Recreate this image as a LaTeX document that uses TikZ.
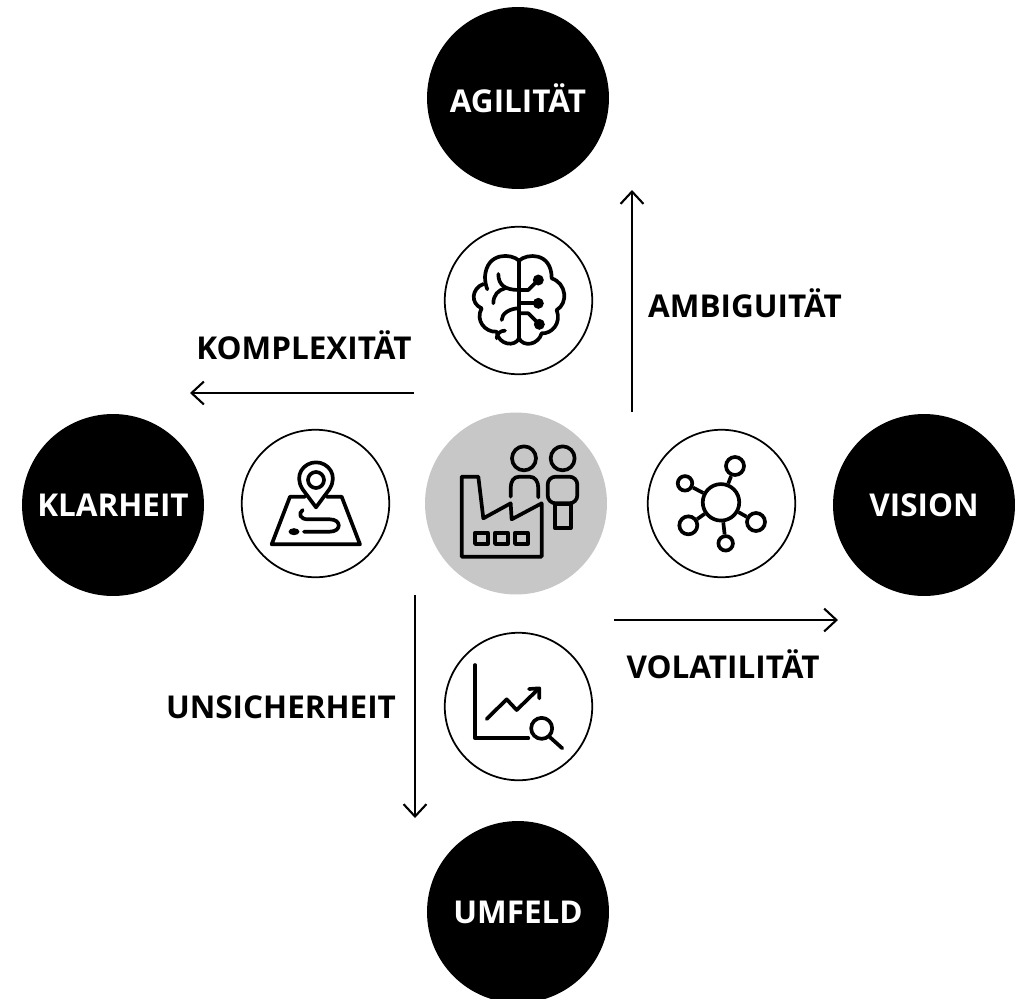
\documentclass[tikz,border=0pt]{standalone}
\usepackage{fontspec}
\setmainfont{Open Sans}
\usetikzlibrary{arrows.meta}

\begin{document}
\begin{tikzpicture}[x=0.02cm,y=-0.02cm,
		goal/.style={circle,fill=black,text=white,minimum size=3.64cm,font=\fontsize{17.9}{20}\selectfont\bfseries},
		badge/.style={circle,draw=black,line width=1pt,fill=white,minimum size=2.95cm},
		label/.style={font=\fontsize{17.9}{20}\selectfont\bfseries},
		icon/.style={line width=2.1pt,line join=round,line cap=round},
		tiny/.style={x=0.00667cm,y=-0.00667cm},
		hub/.style={circle,draw=black,line width=2.1pt,inner sep=0pt}]
		\useasboundingbox (0,0) rectangle (1017,998);
		\begin{scope}[every node/.style={goal}]
			\node (agil) at (518,98) {AGILITÄT};
			\node (klar) at (113,505) {KLARHEIT};
			\node (visi) at (924,505) {VISION};
			\node (umfe) at (518,912) {UMFELD};
		\end{scope}
		\node[circle,fill=black!22,minimum size=3.64cm] (firm) at (516,503.5) {};
		\begin{scope}[every node/.style={badge}]
			\node (brain) at (518.5,300.5) {};
			\node (map) at (315.5,503.5) {};
			\node (net) at (721.5,503.5) {};
			\node (chart) at (518.5,706.5) {};
		\end{scope}
		\begin{scope}[every node/.style={label}]
			\node (ambi) at (745,303) {AMBIGUITÄT};
			\node (komp) at (304,345) {KOMPLEXITÄT};
			\node (vola) at (723,664) {VOLATILITÄT};
			\node (unsi) at (281,707) {UNSICHERHEIT};
		\end{scope}
		% arrows
		\coordinate (a1) at (632,412);
		\coordinate (a2) at (632,190);
		\coordinate (k1) at (414,393);
		\coordinate (k2) at (190,393);
		\coordinate (v1) at (614,620);
		\coordinate (v2) at (838,620);
		\coordinate (u1) at (415,595);
		\coordinate (u2) at (415,818);
		\begin{scope}[>={Straight Barb[length=7pt,width=13pt,black]},line width=1.2pt]
			\draw [->] (a1) -- (a2);
			\draw [->] (k1) -- (k2);
			\draw [->] (v1) -- (v2);
			\draw [->] (u1) -- (u2);
		\end{scope}
		% brain
		\begin{scope}[shift={(430,210)},tiny,icon]
			\draw (267,150) -- (267,385);
			\draw (267,152) .. controls (245,130) and (170,125) .. (165,200) .. controls (165,215) and (168,228) .. (172,238);
			\draw (160,222) .. controls (125,235) and (120,280) .. (155,295) .. controls (135,330) and (165,368) .. (200,365) .. controls (205,405) and (255,412) .. (267,385);
			\draw (267,152) .. controls (290,130) and (365,125) .. (365,205) .. controls (410,220) and (415,280) .. (380,300) .. controls (395,340) and (365,372) .. (335,370) .. controls (325,405) and (280,412) .. (267,385);
			\draw (205,192) .. controls (205,225) and (225,240) .. (267,240);
			\draw (190,280) .. controls (190,255) and (205,240) .. (225,235);
			\draw (215,330) .. controls (215,310) and (240,295) .. (267,295);
			\draw (200,385) .. controls (200,370) and (212,362) .. (225,362);
			\draw (267,240) -- (295,240) -- (325,210);
			\draw (267,280) -- (325,280);
			\draw (267,310) -- (295,310) -- (328,343);
			\fill (325,210) circle (1.1mm);
			\fill (325,280) circle (1.1mm);
			\fill (328,343) circle (1.1mm);
		\end{scope}
		% map
		\begin{scope}[shift={(230,400)},tiny,icon]
			\draw (258,240) circle (1.6mm);
			\draw (258,322) -- (218,268) .. controls (190,225) and (222,187) .. (258,187) .. controls (294,187) and (326,225) .. (298,268) -- cycle;
			\draw (225,290) -- (180,290) -- (125,433) -- (390,433) -- (335,290) -- (290,290);
			\draw (218,330) .. controls (205,340) and (208,358) .. (235,358) -- (300,358) .. controls (335,358) and (335,395) .. (300,395) -- (222,395);
			\fill (192,395) ellipse (1.1mm and 0.7mm);
		\end{scope}
		% factory and people
		\begin{scope}[shift={(230,400)},tiny,icon]
			\draw (695,230) -- (745,230) -- (760,355) -- (842,310) -- (845,358) -- (935,310) -- (935,470) -- (695,470) -- cycle;
			\draw (735,398) rectangle (773,432);
			\draw (795,398) rectangle (833,432);
			\draw (855,398) rectangle (893,432);
			\draw (882,175) circle (2.4mm);
			\draw (842,290) -- (842,265) .. controls (842,245) and (850,230) .. (868,230) -- (898,230) .. controls (916,230) and (925,245) .. (925,265) -- (925,292);
			\draw (998,175) circle (2.4mm);
			\draw[rounded corners=1.6mm] (953,230) rectangle (1042,310);
			\draw (975,312) rectangle (1022,385);
		\end{scope}
		% network
		\begin{scope}[shift={(640,420)},tiny]
			\node[hub,minimum size=7.3mm] (core) at (243,247) {};
			\node[hub,minimum size=3.6mm] (n1) at (285,138) {};
			\node[hub,minimum size=2.9mm] (n2) at (135,190) {};
			\node[hub,minimum size=3.6mm] (n3) at (145,316) {};
			\node[hub,minimum size=2.9mm] (n4) at (257,370) {};
			\node[hub,minimum size=3.6mm] (n5) at (348,306) {};
			\draw[line width=2.1pt] (core) -- (n1);
			\draw[line width=2.1pt] (core) -- (n2);
			\draw[line width=2.1pt] (core) -- (n3);
			\draw[line width=2.1pt] (core) -- (n4);
			\draw[line width=2.1pt] (core) -- (n5);
		\end{scope}
		% chart
		\begin{scope}[shift={(430,620)},tiny,icon]
			\draw (135,135) -- (135,355) -- (295,355);
			\draw (170,297) -- (230,238) -- (260,270) -- (325,207);
			\draw (297,207) -- (328,205) -- (328,235);
			\draw (335,325) circle (2.1mm);
			\draw (358,350) -- (397,385);
		\end{scope}
	\end{tikzpicture}
\end{document}
